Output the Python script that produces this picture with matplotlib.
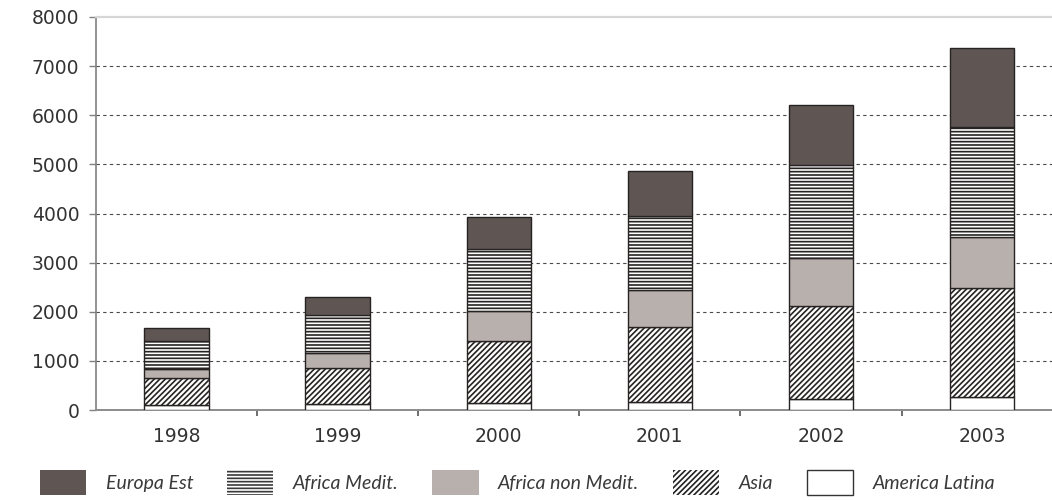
import matplotlib
matplotlib.use("Agg")
import matplotlib.pyplot as plt
from matplotlib.patches import Patch
from matplotlib.ticker import FixedLocator
import numpy as np

years = ["1998", "1999", "2000", "2001", "2002", "2003"]
america_latina = [100, 120, 150, 165, 215, 260]
asia = [545, 730, 1260, 1515, 1910, 2220]
africa_non_medit = [185, 310, 600, 760, 960, 1035]
africa_medit = [565, 770, 1265, 1510, 1900, 2240]
europa_est = [265, 380, 655, 905, 1220, 1610]

series = [
    ("America Latina", america_latina, dict(facecolor="white", hatch=None)),
    ("Asia", asia, dict(facecolor="white", hatch="//////")),
    ("Africa non Medit.", africa_non_medit, dict(facecolor="#b8b0ad", hatch=None)),
    ("Africa Medit.", africa_medit, dict(facecolor="white", hatch="-----")),
    ("Europa Est", europa_est, dict(facecolor="#5f5654", hatch=None)),
]

plt.rcParams["hatch.linewidth"] = 1.2

W, H = 1052, 500
fig = plt.figure(figsize=(W / 100, H / 100), dpi=100)
ax = fig.add_axes([96 / W, 1 - 410 / H, (W - 96) / W, (410 - 17) / H])

x = np.arange(len(years))
bottom = np.zeros(len(years))
for name, vals, style in series:
    vals = np.array(vals, dtype=float)
    ax.bar(x, vals, width=0.40, bottom=bottom, edgecolor="#262322",
           linewidth=1.0, zorder=3, **style)
    bottom += vals

ax.set_xlim(-0.5, len(years) - 0.5 - 0.066)
ax.set_ylim(0, 8000)
ax.set_yticks(np.arange(0, 8001, 1000))
ax.set_xticks(x)
ax.set_xticklabels(years)
ax.xaxis.set_minor_locator(FixedLocator(x[:-1] + 0.5))

for yv in range(1000, 8000, 1000):
    ax.axhline(yv, color="#4a4a4a", linewidth=0.8, linestyle=(0, (3, 3)), zorder=1)

ax.spines["right"].set_visible(False)
ax.spines["top"].set_color("#d6d6d6")
ax.spines["top"].set_linewidth(1.6)
ax.spines["left"].set_color("#808080")
ax.spines["left"].set_linewidth(1.2)
ax.spines["bottom"].set_color("#8c8c8c")
ax.spines["bottom"].set_linewidth(1.4)

ax.tick_params(axis="y", which="major", direction="out", length=5, width=1,
               color="#808080", pad=7, labelsize=13.5, labelcolor="#333333")
ax.tick_params(axis="x", which="major", length=0, pad=12, labelsize=13.5,
               labelcolor="#333333")
ax.tick_params(axis="x", which="minor", direction="out", length=4, width=1.2,
               color="#555555")

legend_order = ["Europa Est", "Africa Medit.", "Africa non Medit.", "Asia", "America Latina"]
handle_styles = {
    "Europa Est": dict(facecolor="#5f5654", edgecolor="#5f5654", linewidth=0),
    "Africa Medit.": dict(facecolor="white", edgecolor="#3a3a3a", hatch="-----", linewidth=0),
    "Africa non Medit.": dict(facecolor="#b8b0ad", edgecolor="#b8b0ad", linewidth=0),
    "Asia": dict(facecolor="white", edgecolor="#222222", hatch="//////", linewidth=0),
    "America Latina": dict(facecolor="white", edgecolor="#333333", linewidth=1.0),
}
handles = [Patch(label=n, **handle_styles[n]) for n in legend_order]
leg = fig.legend(handles=handles, loc="upper left", bbox_to_anchor=(40 / W, 1 - 470 / H),
                 ncol=5, frameon=False, borderpad=0, borderaxespad=0,
                 handlelength=2.37, handleheight=1.6, handletextpad=1.0,
                 columnspacing=1.75,
                 prop=dict(family="Lato", style="italic", weight="normal", size=14))
for t in leg.get_texts():
    t.set_color("#3a3a3a")

fig.savefig("out.png", dpi=100)
